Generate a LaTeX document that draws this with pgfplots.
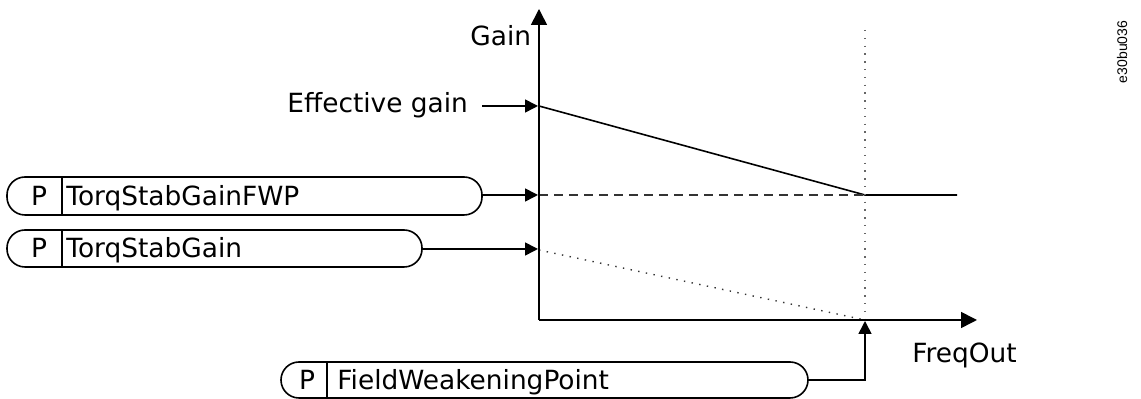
\documentclass[border=0pt]{standalone}
\usepackage{pgfplots}
\pgfplotsset{compat=1.18}
\usetikzlibrary{arrows.meta}
\usepackage{fontspec}
\setmainfont{DejaVu Sans}
\newfontfamily\codefont{Liberation Sans}

\begin{document}
\begin{tikzpicture}
\begin{axis}[
    scale only axis,
    width=570.5pt, height=199.5pt,
    xmin=0, xmax=1141, ymin=0, ymax=399,
    y dir=reverse,
    hide axis,
    clip=false,
]
% gain curves (pixel units of the reference)
\addplot[black, line width=0.8pt] coordinates {(539,106) (865,195) (957,195)};
\addplot[black!80, line width=0.8pt, dash pattern=on 4.5pt off 3pt] coordinates {(539,195) (865,195)};
\addplot[black!80, line width=0.7pt, dash pattern=on 0.7pt off 3.2pt] coordinates {(539,250) (865,320)};
\addplot[black!60, line width=0.7pt, dash pattern=on 0.7pt off 3.2pt] coordinates {(865,30) (865,320)};

\path (axis cs:0,0) rectangle (axis cs:1141,399);

% axes
\draw[line width=0.8pt, -{Triangle[length=8pt,width=8pt]}] (axis cs:539,320) -- (axis cs:539,9);
\draw[line width=0.8pt, -{Triangle[length=8pt,width=8pt]}] (axis cs:539,320) -- (axis cs:977,320);
\node[anchor=base west, inner sep=0, font=\fontsize{13.2}{15}\selectfont] at (axis cs:470,46) {Gain};
\node[anchor=base west, inner sep=0, font=\fontsize{13.2}{15}\selectfont] at (axis cs:912,363) {FreqOut};

% effective gain
\node[anchor=base west, inner sep=0, font=\fontsize{13.2}{15}\selectfont] at (axis cs:287,113) {Effective gain};
\draw[line width=0.8pt, -{Triangle[length=6.5pt,width=6.5pt]}] (axis cs:482,106) -- (axis cs:538,106);

% parameter boxes
\draw[line width=0.8pt, rounded corners=9pt] (axis cs:7,177) rectangle (axis cs:482,215);
\draw[line width=0.6pt] (axis cs:62,177) -- (axis cs:62,215);
\node[anchor=base, inner sep=0, font=\fontsize{13.2}{15}\selectfont] at (axis cs:39,205.5) {P};
\node[anchor=base west, inner sep=0, font=\fontsize{13.2}{15}\selectfont] at (axis cs:66,205.5) {TorqStabGainFWP};
\draw[line width=0.8pt, -{Triangle[length=6.5pt,width=6.5pt]}] (axis cs:482,195) -- (axis cs:538,195);

\draw[line width=0.8pt, rounded corners=9pt] (axis cs:7,230) rectangle (axis cs:422,267);
\draw[line width=0.6pt] (axis cs:62,230) -- (axis cs:62,267);
\node[anchor=base, inner sep=0, font=\fontsize{13.2}{15}\selectfont] at (axis cs:39,258) {P};
\node[anchor=base west, inner sep=0, font=\fontsize{13.2}{15}\selectfont] at (axis cs:66,258) {TorqStabGain};
\draw[line width=0.8pt, -{Triangle[length=6.5pt,width=6.5pt]}] (axis cs:422,249) -- (axis cs:538,249);

\draw[line width=0.8pt, rounded corners=9pt] (axis cs:281,362) rectangle (axis cs:808,398);
\draw[line width=0.6pt] (axis cs:327,362) -- (axis cs:327,398);
\node[anchor=base, inner sep=0, font=\fontsize{13.2}{15}\selectfont] at (axis cs:307,389.5) {P};
\node[anchor=base west, inner sep=0, font=\fontsize{13.2}{15}\selectfont] at (axis cs:337,389.5) {FieldWeakeningPoint};
\draw[line width=0.8pt, -{Triangle[length=6.5pt,width=6.5pt]}] (axis cs:808,380) -- (axis cs:865,380) -- (axis cs:865,321);

% figure id
\node[rotate=90, inner sep=0, font=\codefont\fontsize{7}{8}\selectfont] at (axis cs:1122,52) {e30bu036};
\end{axis}
\end{tikzpicture}
\end{document}
